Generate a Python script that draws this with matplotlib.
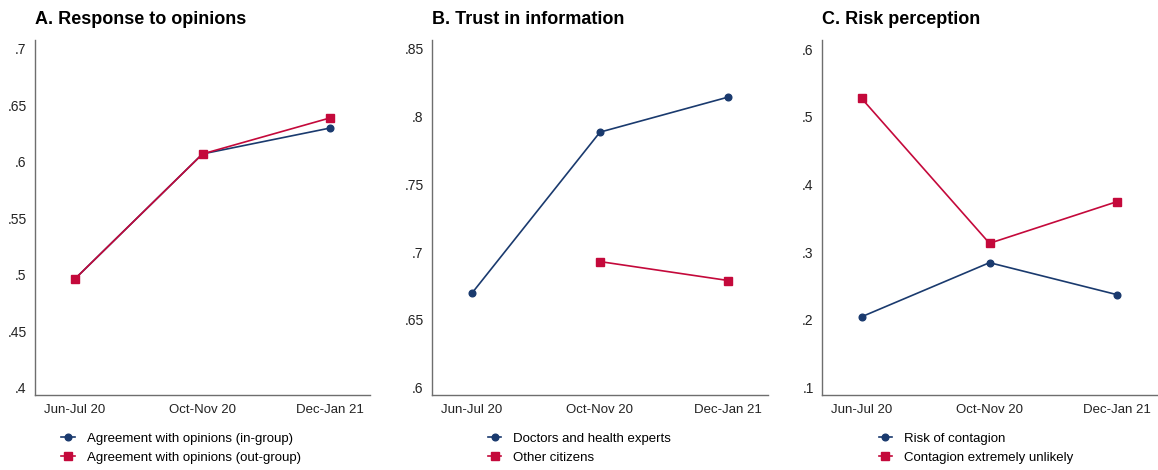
import numpy as np
import matplotlib.pyplot as plt
from matplotlib.ticker import FuncFormatter

plt.rcParams['font.family'] = ['Liberation Sans', 'DejaVu Sans']

periods = ['Jun-Jul 20', 'Oct-Nov 20', 'Dec-Jan 21']

# panel A
a_in = [0.496, 0.607, 0.630]
a_out = [0.496, 0.607, 0.639]
# panel B
b_doctors = [0.6695, 0.7886, 0.8145]
b_citizens = [np.nan, 0.693, 0.679]
# panel C
c_risk = [0.2045, 0.2844, 0.237]
c_unlikely = [0.527, 0.313, 0.3747]

NAVY = '#1a3a6e'
RED = '#c4093b'
AXIS_GREY = '#6e6e6e'

panels = [
    dict(title='A. Response to opinions', s1=a_in, s2=a_out,
         l1='Agreement with opinions (in-group)', l2='Agreement with opinions (out-group)',
         ticks=[0.4, 0.45, 0.5, 0.55, 0.6, 0.65, 0.7], left=35, right=370, leg_x=0.079),
    dict(title='B. Trust in information', s1=b_doctors, s2=b_citizens,
         l1='Doctors and health experts', l2='Other citizens',
         ticks=[0.6, 0.65, 0.7, 0.75, 0.8, 0.85], left=432, right=768, leg_x=0.167),
    dict(title='C. Risk perception', s1=c_risk, s2=c_unlikely,
         l1='Risk of contagion', l2='Contagion extremely unlikely',
         ticks=[0.1, 0.2, 0.3, 0.4, 0.5, 0.6], left=822, right=1157, leg_x=0.169),
]

W, H = 1158, 470
fig = plt.figure(figsize=(W / 100, H / 100), dpi=100)

def fmt(v, pos):
    s = ('%.2f' % v).rstrip('0').rstrip('.')
    return s[1:] if s.startswith('0') else s

top_px, bot_px = 40, 395
tick_top_px, tick_bot_px = 49, 387.5

for p in panels:
    ax = fig.add_axes([p['left'] / W, 1 - bot_px / H,
                       (p['right'] - p['left']) / W, (bot_px - top_px) / H])
    x = np.arange(len(periods))
    ax.plot(x, p['s1'], color=NAVY, lw=1.2, marker='o', ms=4.8, label=p['l1'])
    ax.plot(x, p['s2'], color=RED, lw=1.2, marker='s', ms=5.6, label=p['l2'])

    # y limits so that tick range maps to the pixel positions of the reference
    lo, hi = p['ticks'][0], p['ticks'][-1]
    per_px = (hi - lo) / (tick_bot_px - tick_top_px)
    ax.set_ylim(lo - (bot_px - tick_bot_px) * per_px, hi + (tick_top_px - top_px) * per_px)
    ax.set_yticks(p['ticks'])
    ax.yaxis.set_major_formatter(FuncFormatter(fmt))
    ax.set_xlim(-0.31, 2.31)
    ax.set_xticks(x)
    ax.set_xticklabels(periods)

    for s in ['top', 'right']:
        ax.spines[s].set_visible(False)
    for s in ['left', 'bottom']:
        ax.spines[s].set_color(AXIS_GREY)
        ax.spines[s].set_linewidth(1.0)
    ax.tick_params(length=0, labelsize=9.5, colors='#222222')
    ax.tick_params(axis='y', pad=6, labelsize=10)
    ax.tick_params(axis='x', pad=6.5)

    ax.text(0, 1.045, p['title'], transform=ax.transAxes, fontsize=13,
            fontweight='bold', ha='left', va='baseline')

    ax.legend(loc='upper left', bbox_to_anchor=(p['leg_x'], -0.105), frameon=False,
              fontsize=9.5, handlelength=1.0, handletextpad=0.9, labelspacing=0.55,
              borderpad=0, borderaxespad=0)

fig.savefig('out.png', dpi=100)
